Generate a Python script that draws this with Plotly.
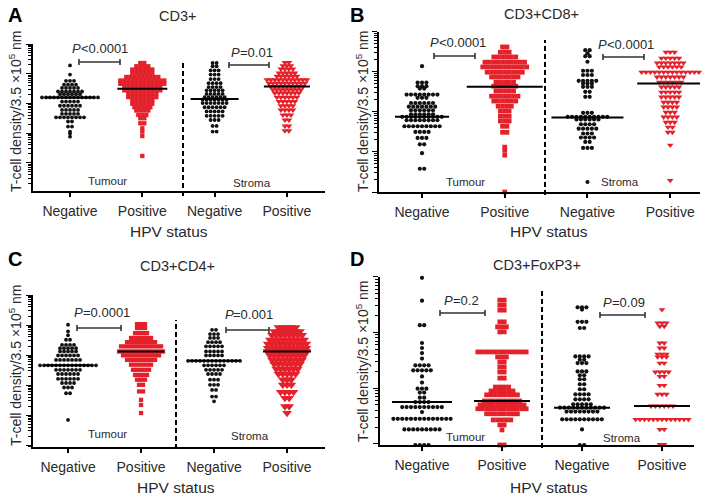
import math
import plotly.graph_objects as go

W, H = 714, 496
RED = '#e4202a'
DOT = '#111111'
INK = '#2a2a2a'
FONT = 'Liberation Sans, Arial, sans-serif'

GROUPS = ['Negative', 'Positive', 'Negative', 'Positive']

# log10 T-cell density per 3.5x10^5 nm, read row by row off each swarm: (level, points in row)
# order in every panel: tumour HPV-, tumour HPV+, stroma HPV-, stroma HPV+
cd3_tumour_neg = [(3.28, 1), (2.97, 1), (2.76, 3), (2.63, 4), (2.52, 5), (2.40, 7), (2.31, 6), (2.20, 15),
                  (2.06, 5), (1.92, 6), (1.78, 5), (1.65, 5), (1.53, 8), (1.39, 2), (1.22, 2), (1.05, 1),
                  (0.99, 1), (0.88, 1)]
cd3_tumour_pos = [(3.36, 2), (3.25, 4), (3.14, 6), (3.02, 6), (2.89, 9), (2.77, 12), (2.66, 12), (2.55, 10),
                  (2.44, 10), (2.32, 8), (2.21, 8), (2.10, 6), (1.99, 6), (1.87, 5), (1.76, 4), (1.61, 3),
                  (1.50, 2), (1.33, 2), (1.16, 1), (1.05, 1), (0.90, 1), (0.23, 1)]
cd3_stroma_neg = [(3.36, 2), (3.25, 2), (3.11, 3), (2.97, 3), (2.82, 3), (2.68, 4), (2.55, 4), (2.44, 5),
                  (2.32, 5), (2.21, 6), (2.12, 7), (2.01, 7), (1.87, 6), (1.73, 5), (1.58, 5), (1.44, 3),
                  (1.24, 2), (1.05, 2)]
cd3_stroma_pos = [(3.38, 2), (3.27, 3), (3.16, 4), (3.02, 5), (2.91, 6), (2.80, 11), (2.68, 10), (2.57, 9),
                  (2.46, 8), (2.35, 7), (2.21, 6), (2.06, 5), (1.92, 4), (1.78, 4), (1.61, 3), (1.44, 2),
                  (1.24, 2), (1.08, 2)]
cd3_medians = [2.20, 2.49, 2.15, 2.57]
cd3_p = [('<', '0.0001'), ('=', '0.01')]

cd8_tumour_neg = [(2.14, 1), (1.73, 3), (1.64, 3), (1.58, 2), (1.43, 8), (1.35, 3), (1.22, 6), (1.13, 7),
                  (1.04, 6), (0.94, 6), (0.875, 10), (0.79, 8), (0.64, 9), (0.50, 4), (0.35, 3), (0.19, 2),
                  (-0.03, 1), (-0.42, 2)]
cd8_tumour_pos = [(2.62, 2), (2.49, 3), (2.37, 6), (2.24, 10), (2.12, 11), (1.99, 9), (1.87, 7), (1.74, 5),
                  (1.64, 6), (1.52, 5), (1.39, 7), (1.27, 6), (1.14, 4), (1.02, 3), (0.89, 3), (0.77, 3),
                  (0.64, 2), (0.49, 2), (0.12, 1), (0.04, 1), (-0.08, 1), (-1.0, 1)]
cd8_stroma_neg = [(2.54, 2), (2.46, 1), (2.39, 2), (2.25, 1), (2.025, 3), (1.92, 3), (1.775, 5), (1.71, 3),
                  (1.625, 3), (1.5, 2), (1.375, 2), (0.975, 3), (0.875, 10), (0.81, 6), (0.69, 4), (0.58, 5),
                  (0.46, 3), (0.36, 4), (0.25, 2), (0.10, 3), (-0.75, 1)]
cd8_stroma_pos = [(2.49, 3), (2.34, 5), (2.22, 7), (2.12, 6), (1.99, 14), (1.87, 7), (1.74, 6), (1.62, 5),
                  (1.49, 5), (1.37, 5), (1.24, 4), (1.12, 4), (0.99, 3), (0.87, 4), (0.74, 3), (0.62, 2),
                  (0.49, 2), (0.17, 1), (-0.71, 1)]
cd8_medians = [0.875, 1.625, 0.86, 1.71]
cd8_p = [('<', '0.0001'), ('<', '0.0001')]

cd4_tumour_neg = [(3.01, 1), (2.79, 1), (2.66, 1), (2.51, 2), (2.34, 4), (2.23, 5), (2.12, 5), (1.99, 6),
                  (1.84, 7), (1.66, 15), (1.51, 7), (1.37, 6), (1.21, 6), (1.07, 4), (0.92, 3), (0.73, 2),
                  (-0.16, 1)]
cd4_tumour_pos = [(3.03, 3), (2.9, 3), (2.73, 4), (2.57, 6), (2.43, 8), (2.29, 11), (2.12, 12), (1.99, 10),
                  (1.84, 8), (1.68, 6), (1.51, 5), (1.34, 4), (1.18, 3), (1.01, 2), (0.79, 2), (0.51, 1),
                  (0.34, 1), (0.07, 1)]
cd4_stroma_neg = [(2.84, 2), (2.7, 3), (2.57, 3), (2.43, 4), (2.29, 5), (2.12, 5), (1.99, 5), (1.81, 14),
                  (1.66, 6), (1.51, 5), (1.37, 4), (1.18, 3), (1.01, 3), (0.84, 2), (0.62, 2), (0.46, 1)]
cd4_stroma_pos = [(2.92, 5), (2.79, 7), (2.66, 8), (2.51, 9), (2.37, 10), (2.23, 10), (2.12, 10), (1.99, 9),
                  (1.84, 8), (1.70, 7), (1.54, 6), (1.37, 5), (1.18, 3), (1.01, 3), (0.77, 4), (0.57, 2),
                  (0.29, 2), (0.07, 1)]
cd4_medians = [1.66, 2.12, 1.81, 2.12]
cd4_p = [('=', '0.0001'), ('=', '0.001')]

foxp3_tumour_neg = [(1.98, 1), (1.57, 1), (1.13, 2), (0.81, 1), (0.72, 1), (0.63, 1), (0.53, 1), (0.41, 4),
                    (0.32, 5), (0.21, 1), (0.10, 1), (-0.01, 3), (-0.08, 2), (-0.17, 2), (-0.25, 4),
                    (-0.34, 10), (-0.43, 1), (-0.55, 14), (-0.74, 9), (-1.02, 4)]
foxp3_tumour_pos = [(1.58, 2), (1.49, 2), (1.40, 2), (1.19, 2), (1.10, 3), (1.01, 2), (0.65, 12), (0.56, 3),
                    (0.47, 2), (0.38, 2), (0.29, 2), (0.18, 2), (0.02, 4), (-0.05, 6), (-0.12, 8), (-0.23, 9),
                    (-0.30, 11), (-0.37, 12), (-0.46, 8), (-0.57, 5), (-0.66, 2), (-0.75, 1), (-1.02, 2)]
foxp3_stroma_neg = [(1.45, 3), (1.41, 1), (1.19, 3), (1.08, 2), (0.57, 4), (0.51, 2), (0.45, 3), (0.30, 3),
                    (0.23, 2), (0.16, 2), (0.07, 2), (-0.02, 2), (-0.11, 4), (-0.20, 4), (-0.29, 5),
                    (-0.35, 11), (-0.42, 8), (-0.56, 10), (-0.74, 1), (-1.02, 2)]
foxp3_stroma_pos = [(1.41, 1), (1.17, 3), (1.11, 2), (0.81, 2), (0.72, 2), (0.61, 3), (0.56, 3), (0.45, 2),
                    (0.29, 4), (0.21, 2), (0.05, 2), (-0.11, 3), (-0.32, 6), (-0.56, 13), (-0.74, 2),
                    (-1.01, 2)]
foxp3_medians = [-0.25, -0.23, -0.35, -0.32]
foxp3_p = [('=', '0.2'), ('=', '0.09')]

# page geometry in pixels
panels = [
    dict(letter='A', title='CD3+', letter_xy=(15, 15), title_xy=(177, 16), ytitle_xy=(15, 112), hpv_xy=(169, 231),
         data=[cd3_tumour_neg, cd3_tumour_pos, cd3_stroma_neg, cd3_stroma_pos], medians=cd3_medians, p=cd3_p,
         box=(33, 325, 44, 191), xr=(0.488, 4.527), yr=(-0.95, 4.0), half=[25, 25, 24, 23], tri=6, scale=1.0,
         divider=(183, 60, 196), brackets=[(79, 120, 62), (229, 269, 65)], ptext=[(98, 48), (250, 52)],
         regions=[(108, 181), (252, 183)]),
    dict(letter='B', title='CD3+CD8+', letter_xy=(357, 15), title_xy=(541, 14), ytitle_xy=(362, 112), hpv_xy=(549, 231),
         data=[cd8_tumour_neg, cd8_tumour_pos, cd8_stroma_neg, cd8_stroma_pos], medians=cd8_medians, p=cd8_p,
         box=(379, 700, 31.7, 192), xr=(0.48, 4.36), yr=(-1.0, 3.0), half=[27, 38, 36, 33], tri=5.8, scale=1.1,
         divider=(545, 40, 195), brackets=[(434, 475, 56), (603, 644, 57)], ptext=[(456, 43), (624, 45)],
         regions=[(465, 182), (620, 182)]),
    dict(letter='C', title='CD3+CD4+', letter_xy=(15, 259), title_xy=(177, 266), ytitle_xy=(15, 366), hpv_xy=(176, 487),
         data=[cd4_tumour_neg, cd4_tumour_pos, cd4_stroma_neg, cd4_stroma_pos], medians=cd4_medians, p=cd4_p,
         box=(33, 325, 295, 446.7), xr=(0.52, 4.52), yr=(-1.05, 4.0), half=[24, 23, 25, 24], tri=8.5, scale=1.0,
         divider=(176, 320, 449), brackets=[(77, 121, 328), (226, 269, 330)], ptext=[(100, 312), (247, 314)],
         regions=[(108, 434), (250, 436)]),
    dict(letter='D', title='CD3+FoxP3+', letter_xy=(357, 259), title_xy=(537, 265), ytitle_xy=(362, 362), hpv_xy=(549, 487),
         data=[foxp3_tumour_neg, foxp3_tumour_pos, foxp3_stroma_neg, foxp3_stroma_pos], medians=foxp3_medians, p=foxp3_p,
         box=(380, 694, 276.7, 445), xr=(0.475, 4.4), yr=(-1.02, 2.0), half=[30, 28, 28, 28], tri=5.8, scale=1.1,
         divider=(542, 290, 448), brackets=[(440, 485, 313), (600, 645, 315)], ptext=[(459, 300), (622, 302)],
         regions=[(465, 437), (622, 438)]),
]

# rough Arial advance widths (em) used to centre the split "P = value" labels
CHAR_W = {'<': 0.584, '=': 0.584, '.': 0.278, 'P': 0.667}


def text_width(s, size):
    return sum(CHAR_W.get(c, 0.556) for c in s) * size


def px(x, y):
    return x / W, 1 - y / H


def swarm(rows, centre, step):
    xs, ys = [], []
    for level, n in rows:
        for i in range(n):
            xs.append(centre + (i - (n - 1) / 2) * step)
            ys.append(10 ** level)
    return xs, ys


fig = go.Figure()
layout = dict(width=W, height=H, margin=dict(l=0, r=0, t=0, b=0), paper_bgcolor='white',
              plot_bgcolor='white', showlegend=False, font=dict(family=FONT, color=INK))
shapes, annotations = [], []


def note(text, x, y, size, xanchor='center', **font):
    ax, ay = px(x, y)
    annotations.append(dict(text=text, x=ax, y=ay, xref='paper', yref='paper', showarrow=False,
                            font=dict(size=size, color=font.pop('color', INK), **font),
                            xanchor=xanchor, yanchor='middle'))


for k, p in enumerate(panels):
    n = '' if k == 0 else str(k + 1)
    xa, ya = 'x' + n, 'y' + n
    left, right, top, bottom = p['box']
    x0, x1 = p['xr']
    y0, y1 = p['yr']
    unit = (right - left) / (x1 - x0)
    s = p['scale']

    major = [10 ** d for d in range(math.ceil(y0), math.floor(y1) + 1)]
    minor = [m * 10 ** d for d in range(math.floor(y0), math.ceil(y1)) for m in range(2, 10)
             if y0 <= math.log10(m * 10 ** d) <= y1]

    layout['xaxis' + n] = dict(domain=[left / W, right / W], range=[x0, x1], anchor=ya,
                               tickvals=[1, 2, 3, 4], ticktext=GROUPS, ticks='outside', ticklen=4,
                               tickwidth=1.5, tickcolor='black', showline=True, linecolor='black',
                               linewidth=2, showgrid=False, zeroline=False, ticklabelstandoff=2,
                               tickfont=dict(size=14, color=INK))
    layout['yaxis' + n] = dict(domain=[1 - bottom / H, 1 - top / H], type='log', range=[y0, y1], anchor=xa,
                               showticklabels=False, tickvals=major, ticks='outside', ticklen=5,
                               tickwidth=1.3, tickcolor='black',
                               minor=dict(tickvals=minor, ticks='outside', ticklen=3, tickwidth=1,
                                          tickcolor='black'),
                               showline=True, linecolor='black', linewidth=2, showgrid=False, zeroline=False)

    styles = [('circle', DOT, 3.8 * s), ('square', RED, 4.3 * s), ('circle', DOT, 3.8 * s),
              ('triangle-down', RED, p['tri'])]
    for g, rows in enumerate(p['data']):
        symbol, colour, size = styles[g]
        step = (4.3 if g == 3 and p['tri'] > 8 else 4.0 * s) / unit
        xs, ys = swarm(rows, g + 1, step)
        fig.add_trace(go.Scatter(x=xs, y=ys, mode='markers', xaxis=xa, yaxis=ya, cliponaxis=False,
                                 marker=dict(symbol=symbol, color=colour, size=size, line=dict(width=0))))
        hw = p['half'][g] / unit
        med = 10 ** p['medians'][g]
        fig.add_trace(go.Scatter(x=[g + 1 - hw, g + 1 + hw], y=[med, med], mode='lines', xaxis=xa, yaxis=ya,
                                 line=dict(color='black', width=2), hoverinfo='skip'))

    # dashed divider between tumour and stroma
    dx, dt, db = p['divider']
    shapes.append(dict(type='line', xref='paper', yref='paper', x0=dx / W, x1=dx / W,
                       y0=1 - db / H, y1=1 - dt / H, line=dict(color='black', width=2, dash='5px,3px')))

    # significance brackets with "P<value" labels (italic P)
    for (bx0, bx1, by), (tx, ty), (op, val) in zip(p['brackets'], p['ptext'], p['p']):
        segs = [(bx0, by, bx1, by), (bx0, by - 3, bx0, by + 3), (bx1, by - 3, bx1, by + 3)]
        for sx0, sy0, sx1, sy1 in segs:
            a, b = px(sx0, sy0)
            c, d = px(sx1, sy1)
            shapes.append(dict(type='line', xref='paper', yref='paper', x0=a, y0=b, x1=c, y1=d,
                               line=dict(color='#333333', width=1.6)))
        fs = 13
        rest = op + val
        start = tx - (text_width('P', fs) + text_width(rest, fs)) / 2
        note('P', start, ty, fs, xanchor='left', style='italic')
        note(rest.replace('<', '&lt;'), start + text_width('P', fs), ty, fs, xanchor='left')

    for (rx, ry), label in zip(p['regions'], ['Tumour', 'Stroma']):
        note(label, rx, ry, 11.5)

    note(p['letter'], *p['letter_xy'], 20, color='black', weight='bold')
    note(p['title'], *p['title_xy'], 14.5)
    ax, ay = px(*p['ytitle_xy'])
    annotations.append(dict(text='T-cell density/3.5 \u00d710<sup>5</sup> nm', x=ax, y=ay, xref='paper',
                            yref='paper', showarrow=False, textangle=-90, font=dict(size=14, color=INK),
                            xanchor='center', yanchor='middle'))
    note('HPV status', *p['hpv_xy'], 15.5)

layout['shapes'] = shapes
layout['annotations'] = annotations
fig.update_layout(**layout)
# the page's default 8px body margin would push the figure off the 714x496 window
fig.write_html("out.html", config={'displayModeBar': False},
               post_script="document.body.style.margin='0';")
